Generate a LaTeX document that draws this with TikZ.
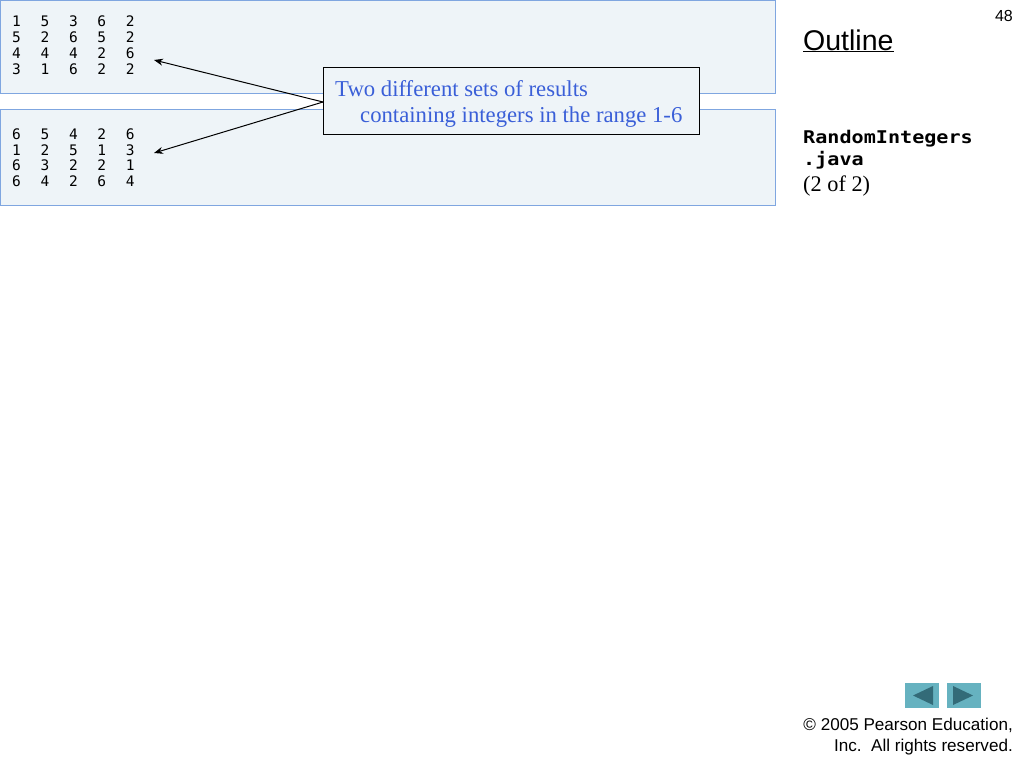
\documentclass[tikz,border=0pt]{standalone}
\usepackage{fontspec}
\setmainfont{Liberation Serif}
\newfontfamily\arialf{Liberation Sans}
\newfontfamily\monof{DejaVu Sans Mono}
\newfontfamily\monow[FakeStretch=1.15]{DejaVu Sans Mono}
\usetikzlibrary{arrows.meta}
\definecolor{boxfill}{HTML}{EEF4F8}
\definecolor{boxline}{HTML}{7FA6E0}
\definecolor{calltext}{HTML}{3A5FD8}
\definecolor{btnfill}{HTML}{66B2C0}
\definecolor{btntri}{HTML}{336B78}
\tikzset{
  outbox/.style={draw=boxline, fill=boxfill, line width=0.8pt},
  numtxt/.style={inner sep=0pt, anchor=base west, font=\monof\fontsize{14.5}{16}\selectfont},
  callout/.style={draw=black, fill=boxfill, line width=0.8pt, inner sep=0pt, minimum width=376pt, minimum height=67pt, anchor=north west},
  calltxt/.style={inner sep=0pt, anchor=base west, text=calltext, font=\fontsize{22.7}{26}\selectfont},
  pointer/.style={-{Stealth[length=9pt,width=7pt]}, line width=1pt},
  sidetxt/.style={inner sep=0pt, anchor=base west},
  btn/.style={fill=btnfill, draw=none},
}
\begin{document}
\begin{tikzpicture}[x=1pt,y=-1pt]
\useasboundingbox (0,0) rectangle (1024,768);
\fill[white] (0,0) rectangle (1024,768);
% output boxes
\draw[outbox] (0.5,0.5) rectangle (775,93);
\draw[outbox] (0.5,109) rectangle (775,205);
% numbers
\foreach \row [count=\r] in {{1,5,3,6,2},{5,2,6,5,2},{4,4,4,2,6},{3,1,6,2,2}} {
  \foreach \v [count=\c] in \row {
    \node[numtxt] (a\r\c) at ({12+28.4*(\c-1)}, {27+15.7*(\r-1)}) {\v};
  }
}
\foreach \row [count=\r] in {{6,5,4,2,6},{1,2,5,1,3},{6,3,2,2,1},{6,4,2,6,4}} {
  \foreach \v [count=\c] in \row {
    \node[numtxt] (b\r\c) at ({12+28.4*(\c-1)}, {139.3+15.7*(\r-1)}) {\v};
  }
}
\coordinate (tipA) at (154,60);
\coordinate (tipB) at (154,153);
% callout
\node[callout] (call) at (323,67) {};
\node[calltxt] (l1) at (335,96) {Two different sets of results};
\node[calltxt] (l2) at (360,122) {containing integers in the range 1-6};
\coordinate (src) at (323,102);
\draw[pointer] (src) -- (tipA);
\draw[pointer] (src) -- (tipB);
% side
\node[sidetxt, font=\arialf\fontsize{16}{18}\selectfont, anchor=base east] (pg) at (1013,22) {48};
\node[sidetxt, font=\arialf\fontsize{28.5}{32}\selectfont] (outl) at (803,50) {\underline{Outline}};
\node[sidetxt, font=\monow\bfseries\fontsize{17.5}{20}\selectfont] (f1) at (803,143) {RandomIntegers};
\node[sidetxt, font=\monow\bfseries\fontsize{17.5}{20}\selectfont] (f2) at (803,165) {.java};
\node[sidetxt, font=\fontsize{22.3}{26}\selectfont] (f3) at (803,191) {(2 of 2)};
% buttons
\fill[btn] (905,683) rectangle (939,708);
\fill[btntri] (913,695.5) -- (933,686) -- (933,705) -- cycle;
\fill[btn] (947,683) rectangle (981,708);
\fill[btntri] (973,695.5) -- (953,686) -- (953,705) -- cycle;
\node[sidetxt, anchor=base east, font=\arialf\fontsize{17.1}{20}\selectfont] (c1) at (1013,730) {\textcopyright{} 2005 Pearson Education,};
\node[sidetxt, anchor=base east, font=\arialf\fontsize{17.1}{20}\selectfont] (c2) at (1013,751) {Inc.\ \ All rights reserved.};
\end{tikzpicture}
\end{document}
